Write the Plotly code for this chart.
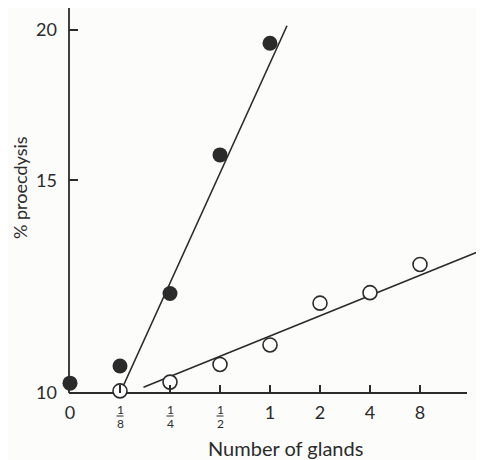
import numpy as np
import plotly.graph_objects as go

# categories (number of glands) placed at equal steps
categories = ["0", "1/8", "1/4", "1/2", "1", "2", "4", "8"]
# fractions drawn as stacked numerator / denominator
frac_num = ["", "1", "1", "1", "", "", "", ""]
frac_den = ["", "8", "4", "2", "", "", "", ""]
tick_labels = ["0", "", "", "", "1", "2", "4", "8"]
pos = list(range(len(categories)))

# filled circles (% proecdysis)
filled_x = [0, 1, 2, 3, 4]
filled_y = [10.19, 10.53, 12.09, 15.75, 19.49]

# open circles
open_x = [1, 2, 3, 4, 5, 6, 7]
open_y = [10.04, 10.21, 10.56, 10.96, 11.87, 12.11, 12.78]

# fitted lines (end points)
fit_filled_x = [1.0, 4.34]
fit_filled_y = [10.0, 20.15]
fit_open_x = [1.47, 8.26]
fit_open_y = [10.11, 13.14]

y_ticks = [10, 15, 20]

ink = "#2b2b2b"
fnt = "Lato"

# page body has an 8px margin: plot area spans x 61..476, y 0..385 in figure coords
W, H = 476, 452
L, T, B = 61, 0, 67
PW, PH = W - L, H - T - B

fig = go.Figure()
fig.add_trace(go.Scatter(x=fit_filled_x, y=fit_filled_y, mode="lines",
                         line=dict(color=ink, width=1.6), showlegend=False))
fig.add_trace(go.Scatter(x=fit_open_x, y=fit_open_y, mode="lines",
                         line=dict(color=ink, width=1.6), showlegend=False))
fig.add_trace(go.Scatter(x=filled_x, y=filled_y, mode="markers", cliponaxis=False,
                         marker=dict(size=15, color=ink, line=dict(width=0)),
                         showlegend=False))
fig.add_trace(go.Scatter(x=open_x, y=open_y, mode="markers", cliponaxis=False,
                         marker=dict(size=14, color="rgba(255,255,255,1)",
                                     line=dict(width=1.6, color=ink)),
                         showlegend=False))

# axis lines
fig.add_shape(type="line", xref="paper", yref="paper", x0=0, x1=0, y0=0, y1=1,
              line=dict(color=ink, width=1.8), layer="below")
fig.add_shape(type="line", xref="x", yref="paper", x0=-0.02, x1=7.94, y0=0, y1=0,
              line=dict(color=ink, width=1.8), layer="below")

# stacked fraction tick labels
for p, n, d in zip(pos, frac_num, frac_den):
    if not n:
        continue
    fig.add_annotation(x=p, xref="x", y=0, yref="paper", text=n, showarrow=False,
                       yanchor="middle", yshift=-16, font=dict(size=12, family=fnt, color=ink))
    fig.add_annotation(x=p, xref="x", y=0, yref="paper", text=d, showarrow=False,
                       yanchor="middle", yshift=-30, font=dict(size=12, family=fnt, color=ink))
    fig.add_shape(type="line", xref="x", yref="paper", x0=p - 0.07, x1=p + 0.07,
                  y0=-23 / PH, y1=-23 / PH, line=dict(color=ink, width=1))

# axis titles placed as annotations (reference coords minus body margin)
fig.add_annotation(text="% proecdysis", xref="paper", yref="paper",
                   x=(20 - 8 - L) / PW, y=(393 - 188) / PH, textangle=-90,
                   xanchor="center", yanchor="middle", borderpad=0,
                   showarrow=False, font=dict(size=18, family=fnt, color=ink))
fig.add_annotation(text="Number of glands", xref="paper", yref="paper",
                   x=(285 - 8 - L) / PW, y=-(448 - 393) / PH,
                   xanchor="center", yanchor="middle",
                   showarrow=False, font=dict(size=20, family=fnt, color=ink))

fig.update_layout(
    width=W, height=H,
    margin=dict(l=L, r=0, t=T, b=B, pad=0),
    paper_bgcolor="#fcfcfb", plot_bgcolor="rgba(0,0,0,0)",
    font=dict(family=fnt, color=ink, size=16),
    xaxis=dict(range=[-0.02, 8.28], tickmode="array", tickvals=pos, ticktext=tick_labels,
               showgrid=False, zeroline=False, showline=False,
               ticks="inside", ticklen=8, tickwidth=1.5, tickcolor=ink,
               tickfont=dict(size=18, family=fnt, color=ink), ticklabelstandoff=7),
    yaxis=dict(type="log", range=[1.0, 1.319], tickmode="array", tickvals=y_ticks,
               ticktext=[str(v) for v in y_ticks],
               showgrid=False, zeroline=False, showline=False,
               ticks="inside", ticklen=9, tickwidth=1.5, tickcolor=ink,
               tickfont=dict(size=18, family=fnt, color=ink), ticklabelstandoff=11),
)

fig.write_html("out.html")
